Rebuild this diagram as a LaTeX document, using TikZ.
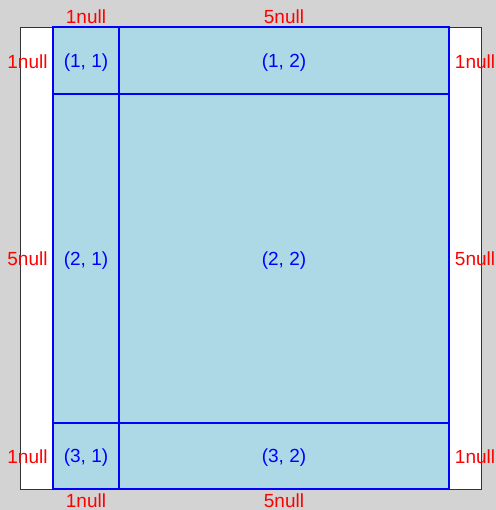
\documentclass[tikz,border=0pt]{standalone}
\usepackage{fontspec}
\setmainfont{Liberation Sans}
\definecolor{bggray}{RGB}{211,211,211}
\definecolor{cellblue}{RGB}{173,216,230}
\definecolor{lineblue}{RGB}{0,0,255}
\definecolor{txtred}{RGB}{255,0,0}
\begin{document}
\begin{tikzpicture}[x=1bp,y=-1bp,
  cell/.style={fill=cellblue, inner sep=0pt, outer sep=0pt, text depth=0pt,
    anchor=north west, text=lineblue, font=\fontsize{19bp}{19bp}\selectfont},
  gridline/.style={draw=lineblue, line width=1.4bp},
  sizelab/.style={text=txtred, inner sep=0pt, font=\fontsize{19bp}{19bp}\selectfont}]
\useasboundingbox[fill=bggray] (0,0) rectangle (496,510);
\node[draw=black!80, fill=white, line width=1bp, inner sep=0pt, outer sep=0pt,
  anchor=north west, minimum width=461bp, minimum height=462bp] (outer) at (20.5,27.5) {};
% cells
\node[cell, minimum width=66bp, minimum height=67bp] (c11) at (53,27) {(1, 1)};
\node[cell, minimum width=330bp, minimum height=67bp] (c12) at (119,27) {(1, 2)};
\node[cell, minimum width=66bp, minimum height=329bp] (c21) at (53,94) {(2, 1)};
\node[cell, minimum width=330bp, minimum height=329bp] (c22) at (119,94) {(2, 2)};
\node[cell, minimum width=66bp, minimum height=66bp] (c31) at (53,423) {(3, 1)};
\node[cell, minimum width=330bp, minimum height=66bp] (c32) at (119,423) {(3, 2)};
% grid lines
\draw[gridline] (c11.north west) rectangle (c32.south east);
\draw[gridline] (c11.north east) -- (c31.south east);
\draw[gridline] (c21.north west) -- (c22.north east);
\draw[gridline] (c31.north west) -- (c32.north east);
% column size labels
\node[sizelab] (t1) at (86,16.5) {1null};
\node[sizelab] (t2) at (284,16.5) {5null};
\node[sizelab] (b1) at (86,500.5) {1null};
\node[sizelab] (b2) at (284,500.5) {5null};
% row size labels
\node[sizelab] (l1) at (27.5,61.5) {1null};
\node[sizelab] (l2) at (27.5,258.5) {5null};
\node[sizelab] (l3) at (27.5,456.5) {1null};
\node[sizelab] (r1) at (475,61.5) {1null};
\node[sizelab] (r2) at (475,258.5) {5null};
\node[sizelab] (r3) at (475,456.5) {1null};
\end{tikzpicture}
\end{document}
